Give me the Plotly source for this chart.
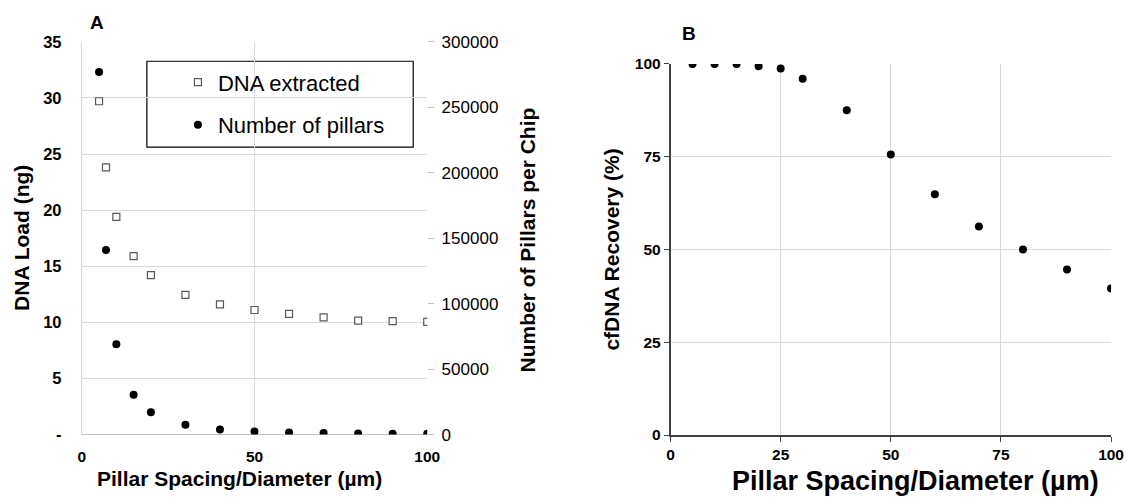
import plotly.graph_objects as go

# ---- data ----
spacing_a = [5, 7, 10, 15, 20, 30, 40, 50, 60, 70, 80, 90, 100]
dna_load = [29.7, 23.8, 19.4, 15.9, 14.2, 12.45, 11.6, 11.1, 10.75, 10.45, 10.15, 10.1, 10.05]
n_pillars = [277000, 141000, 69000, 30500, 17000, 7400, 3900, 2400, 1600, 1200, 900, 700, 550]

spacing_b = [5, 10, 15, 20, 25, 30, 40, 50, 60, 70, 80, 90, 100]
recovery = [100, 100, 100, 99.4, 98.8, 96.0, 87.5, 75.6, 64.9, 56.2, 50.0, 44.6, 39.5]

a_yticks = [0, 5, 10, 15, 20, 25, 30, 35]
a_yticktext = ["-", "5", "10", "15", "20", "25", "30", "35"]
a_y2ticks = [0, 50000, 100000, 150000, 200000, 250000, 300000]
a_xticks = [0, 50, 100]
b_xticks = [0, 25, 50, 75, 100]
b_yticks = [0, 25, 50, 75, 100]

W, H = 1150, 520
FONT = "Liberation Sans, Arial, sans-serif"
GRID = "#d9d9d9"

# map target picture pixels to figure pixels (measured from earlier renders)
SX, OX = 0.984, 4.3
SY, OY = 0.964, 8.7


def px(t):
    return ((t - OX) / SX) / W


def py(t):
    return (H - (t - OY) / SY) / H


fig = go.Figure()

fig.add_trace(go.Scatter(
    x=spacing_a, y=dna_load, mode="markers", name="DNA extracted",
    legendgroup="g1",
    marker=dict(symbol="square", size=7, color="white",
                line=dict(color="#595959", width=1.2)),
    xaxis="x", yaxis="y"))
fig.add_trace(go.Scatter(
    x=spacing_a, y=n_pillars, mode="markers", name="Number of pillars",
    legendgroup="g2",
    marker=dict(symbol="circle", size=8, color="black"),
    xaxis="x", yaxis="y2"))
fig.add_trace(go.Scatter(
    x=spacing_b, y=recovery, mode="markers", name="cfDNA recovery",
    showlegend=False,
    marker=dict(symbol="circle", size=8, color="black"),
    xaxis="x3", yaxis="y3"))

tick_bold = dict(family=FONT, size=15.5, color="black", weight="bold")

fig.update_layout(
    width=W, height=H,
    margin=dict(l=0, r=0, t=0, b=0),
    paper_bgcolor="white", plot_bgcolor="white",
    font=dict(family=FONT, color="black"),
    xaxis=dict(domain=[px(82), px(427)], range=[0, 100],
               tickvals=a_xticks, showgrid=True, gridcolor=GRID, gridwidth=1,
               zeroline=True, zerolinecolor=GRID, zerolinewidth=1,
               showline=False, ticks="outside", ticklen=8,
               tickcolor="rgba(0,0,0,0)", tickfont=tick_bold, anchor="y"),
    yaxis=dict(domain=[py(434.5), py(41.5)], range=[0, 35],
               tickvals=a_yticks, ticktext=a_yticktext,
               showgrid=True, gridcolor=GRID, gridwidth=1,
               zeroline=True, zerolinecolor="#bfbfbf", zerolinewidth=1.3,
               ticks="outside", ticklen=16, tickcolor="rgba(0,0,0,0)",
               tickfont=dict(family=FONT, size=16.5, color="black", weight="bold"),
               anchor="x"),
    yaxis2=dict(domain=[py(434.5), py(41.5)], range=[0, 300000],
                overlaying="y", side="right", anchor="x",
                tickvals=a_y2ticks, showgrid=False, zeroline=False,
                ticks="outside", ticklen=6, tickcolor="#bfbfbf",
                ticklabelstandoff=4,
                tickfont=dict(family=FONT, size=17, color="black"),
                tickformat="d"),
    xaxis3=dict(domain=[px(670), px(1110)], range=[0, 100],
                tickvals=b_xticks, showgrid=True, gridcolor=GRID, gridwidth=1,
                zeroline=False, showline=True, linecolor="#404040", linewidth=1.5,
                ticks="outside", ticklen=5, tickcolor="#404040",
                tickfont=tick_bold, anchor="y3"),
    yaxis3=dict(domain=[py(435), py(63.7)], range=[0, 100],
                tickvals=b_yticks, showgrid=True, gridcolor=GRID, gridwidth=1,
                zeroline=False, showline=True, linecolor="#404040", linewidth=1.5,
                ticks="outside", ticklen=5, tickcolor="#404040",
                tickfont=tick_bold, anchor="x3"),
    legend=dict(x=px(178), y=py(61), xanchor="left", yanchor="top",
                bgcolor="rgba(0,0,0,0)", borderwidth=0,
                font=dict(family=FONT, size=22, color="black"),
                tracegroupgap=11, itemsizing="trace"),
    showlegend=True,
)

# legend frame
fig.add_shape(type="rect", xref="paper", yref="paper",
              x0=px(147), x1=px(413), y0=py(147), y1=py(61),
              line=dict(color="black", width=1.2), fillcolor="white",
              layer="below")

ann = []
title_font = dict(family=FONT, size=21, color="black", weight="bold")
ann.append(dict(text="A", x=px(97), y=py(22), xref="paper", yref="paper",
                showarrow=False, xanchor="center", yanchor="middle",
                font=dict(family=FONT, size=19, color="black", weight="bold")))
ann.append(dict(text="B", x=px(688), y=py(33), xref="paper", yref="paper",
                showarrow=False, xanchor="center", yanchor="middle",
                font=dict(family=FONT, size=19, color="black", weight="bold")))
ann.append(dict(text="DNA Load (ng)", x=px(21), y=py(238), xref="paper", yref="paper",
                showarrow=False, textangle=-90, xanchor="center", yanchor="middle",
                font=title_font))
ann.append(dict(text="Number of Pillars per Chip", x=px(527), y=py(240),
                xref="paper", yref="paper", showarrow=False, textangle=-90,
                xanchor="center", yanchor="middle", font=title_font))
ann.append(dict(text="cfDNA Recovery (%)", x=px(611), y=py(249), xref="paper",
                yref="paper", showarrow=False, textangle=-90,
                xanchor="center", yanchor="middle", font=title_font))
ann.append(dict(text="Pillar Spacing/Diameter (µm)", x=px(240), y=py(478),
                xref="paper", yref="paper", showarrow=False,
                xanchor="center", yanchor="middle",
                font=dict(family=FONT, size=21, color="black", weight="bold")))
ann.append(dict(text="Pillar Spacing/Diameter (µm)", x=px(915), y=py(481),
                xref="paper", yref="paper", showarrow=False,
                xanchor="center", yanchor="middle",
                font=dict(family=FONT, size=27, color="black", weight="bold")))
fig.update_layout(annotations=ann)

fig.write_html("out.html")
